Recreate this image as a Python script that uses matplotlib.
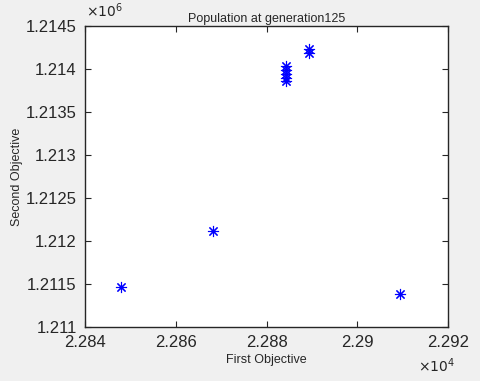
import matplotlib.pyplot as plt
import numpy as np
from matplotlib.ticker import FuncFormatter

# Population points
first_obj = [22847.9, 22868.2, 22884.2, 22884.2, 22884.2, 22884.2, 22884.2,
             22889.4, 22889.4, 22909.4]
second_obj = [1211465, 1212116, 1214035, 1213990, 1213945, 1213900, 1213855,
              1214230, 1214190, 1211384]
x_ticks = np.arange(22840, 22921, 20)
y_ticks = np.arange(1211000, 1214501, 500)

plt.rcParams['font.family'] = ['Liberation Sans', 'DejaVu Sans']
ink = '#262626'

my_dpi = 100
fig = plt.figure(figsize=(480/my_dpi, 381/my_dpi), dpi=my_dpi, facecolor='#f0f0f0')
ax = fig.add_axes([85/480, 54/381, 363/480, 301/381])
ax.set_facecolor('white')

ax.plot(first_obj, second_obj, linestyle='none', marker=(8, 2, 0),
        markersize=8, markeredgewidth=0.8, color='#0000ff')

ax.set_xlim(22840, 22920)
ax.set_ylim(1211000, 1214500)
ax.set_xticks(x_ticks)
ax.set_yticks(y_ticks)
ax.xaxis.set_major_formatter(FuncFormatter(lambda v, p: '%g' % round(v / 1e4, 6)))
ax.yaxis.set_major_formatter(FuncFormatter(lambda v, p: '%g' % round(v / 1e6, 6)))
ax.tick_params(direction='in', top=True, right=True, length=4, width=0.8,
               labelsize=12, colors=ink, pad=6)
for s in ax.spines.values():
    s.set_color(ink)
    s.set_linewidth(1.0)

ax.set_title('Population at generation125', fontsize=9, color=ink, pad=3)
ax.set_xlabel('First Objective', fontsize=9, color=ink, labelpad=3)
ax.set_ylabel('Second Objective', fontsize=9, color=ink, labelpad=2)

# exponent labels the way MATLAB puts them
fig.text(86/480, 1 - 11/381, r'$\times10^6$', fontsize=10, color=ink, va='center')
fig.text(418/480, 1 - 366/381, r'$\times10^4$', fontsize=10, color=ink, va='center')

plt.savefig('out.png', dpi=my_dpi, facecolor=fig.get_facecolor())
